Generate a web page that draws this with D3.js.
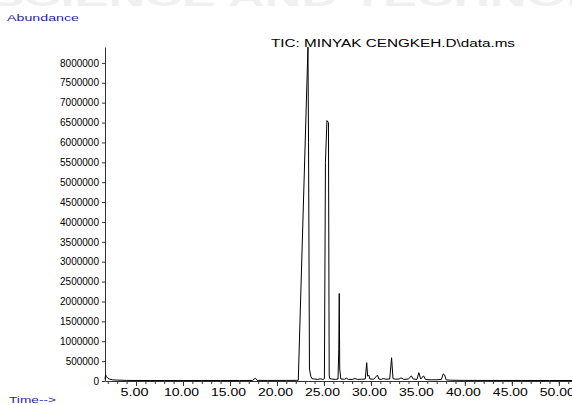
<!DOCTYPE html>
<html>
<head>
<meta charset="utf-8">
<script src="https://cdn.jsdelivr.net/npm/d3@7"></script>
<style>
  body { margin: 0; background: #fff; }
  svg { display: block; font-family: "Liberation Sans", Arial, sans-serif; }
</style>
</head>
<body>
<svg id="chart" width="572" height="405"></svg>
<script>
// retention time (min) and abundance
var times = [1.70, 1.76, 1.85, 2.0, 2.2, 2.5, 3.0, 4.0, 5.0, 6.5, 8.0, 10.0, 12.0, 14.0, 16.0,
  17.4, 17.7, 17.9, 19.0, 21.0, 22.1, 22.27, 23.30, 23.36, 23.46, 23.6, 23.72, 24.0, 24.3,
  24.6, 24.9, 25.05, 25.16, 25.32, 25.48, 25.56, 25.62, 25.8, 26.2, 26.5, 26.58, 26.63, 26.68,
  26.8, 27.2, 27.4, 27.6, 28.0, 28.3, 28.6, 29.0, 29.4, 29.55, 29.65, 29.77, 29.9, 30.3, 30.7,
  30.85, 31.1, 31.3, 31.6, 32.0, 32.2, 32.35, 32.6, 33.0, 33.2, 33.5, 34.0, 34.3, 34.5, 34.9,
  35.1, 35.3, 35.6, 35.8, 36.3, 37.0, 37.5, 37.7, 37.85, 38.0, 38.5, 40.0, 43.0, 46.0, 49.0, 51.4];
var abundance = [40000, 160000, 110000, 70000, 45000, 30000, 22000, 15000, 13000, 12000, 12000, 11000, 12000, 12000, 13000,
  14000, 70000, 15000, 14000, 15000, 16000, 20000, 8400000, 6000000, 300000, 120000, 60000, 50000, 40000,
  55000, 40000, 60000, 5500000, 6550000, 6500000, 150000, 60000, 50000, 40000, 50000, 800000, 2200000, 300000,
  50000, 45000, 70000, 40000, 40000, 60000, 40000, 45000, 50000, 460000, 120000, 150000, 50000, 45000, 150000,
  50000, 40000, 60000, 45000, 50000, 585000, 60000, 45000, 50000, 80000, 40000, 50000, 130000, 50000, 40000,
  210000, 50000, 130000, 40000, 30000, 30000, 40000, 180000, 150000, 30000, 20000, 15000, 14000, 13000, 12000, 12000];

var yTicks = d3.range(0, 8000001, 500000);
var xMajor = [5, 10, 15, 20, 25, 30, 35, 40, 45, 50];
var xMinor = d3.range(2, 52, 1);
var title = "TIC: MINYAK CENGKEH.D\\data.ms";

var svg = d3.select('#chart');
var blue = '#1f1fa6';
var font = '"Liberation Sans", Arial, sans-serif';

// faint watermark, only its lower edge shows
svg.append('text')
  .attr('x', -10).attr('y', 6)
  .attr('font-size', 30).attr('font-weight', 'bold')
  .attr('fill', '#f0f0f0')
  .attr('lengthAdjust', 'spacingAndGlyphs')
  .attr('textLength', 720)
  .text('SCIENCE AND TECHNOLOGY');

var x = d3.scaleLinear().domain([1.7, 51.4]).range([105, 572]);
var y = d3.scaleLinear().domain([0, 8400000]).range([381, 47]);

// y axis
var yAxis = d3.axisLeft(y)
  .tickValues(yTicks)
  .tickSize(3)
  .tickSizeOuter(0)
  .tickFormat(function(d) { return d; });

var gy = svg.append('g').attr('transform', 'translate(105,0)').call(yAxis);
gy.select('.domain').attr('stroke', '#333');
gy.selectAll('.tick line').attr('stroke', '#333');
gy.selectAll('text').attr('font-size', 10).attr('fill', '#000')
  .attr('font-family', font);

// x axis with minor ticks
var gx = svg.append('g').attr('transform', 'translate(0,381)');
gx.call(d3.axisBottom(x).tickValues(xMinor).tickSize(3).tickSizeOuter(0).tickFormat(''));
gx.select('.domain').attr('stroke', '#333');
gx.selectAll('.tick line').attr('stroke', '#333');

var gx2 = svg.append('g').attr('transform', 'translate(0,381)');
gx2.call(d3.axisBottom(x).tickValues(xMajor).tickSize(5).tickSizeOuter(0)
  .tickFormat(function(d) { return d.toFixed(2); }));
gx2.select('.domain').remove();
gx2.selectAll('.tick line').attr('stroke', '#333');
gx2.selectAll('text').attr('font-size', 10).attr('fill', '#000').attr('dx', -2)
  .attr('font-family', font)
  .attr('lengthAdjust', 'spacingAndGlyphs')
  .attr('textLength', function(d) { return d.toFixed(2).length * 7; });

// trace
var pts = times.map(function(t, i) { return [t, abundance[i]]; });
var line = d3.line()
  .x(function(d) { return x(d[0]); })
  .y(function(d) { return y(d[1]); });

svg.append('path')
  .datum(pts)
  .attr('d', line)
  .attr('fill', 'none')
  .attr('stroke', '#000')
  .attr('stroke-width', 1);

svg.append('text')
  .attr('x', 271).attr('y', 47)
  .attr('font-size', 10)
  .attr('fill', '#000')
  .attr('lengthAdjust', 'spacingAndGlyphs')
  .attr('textLength', 244)
  .text(title);

svg.append('text')
  .attr('x', 7).attr('y', 21)
  .attr('font-size', 9)
  .attr('fill', blue)
  .attr('lengthAdjust', 'spacingAndGlyphs')
  .attr('textLength', 72)
  .text('Abundance');

svg.append('text')
  .attr('x', 9).attr('y', 403)
  .attr('font-size', 9)
  .attr('fill', blue)
  .attr('lengthAdjust', 'spacingAndGlyphs')
  .attr('textLength', 47)
  .text('Time-->');
</script>
</body>
</html>
